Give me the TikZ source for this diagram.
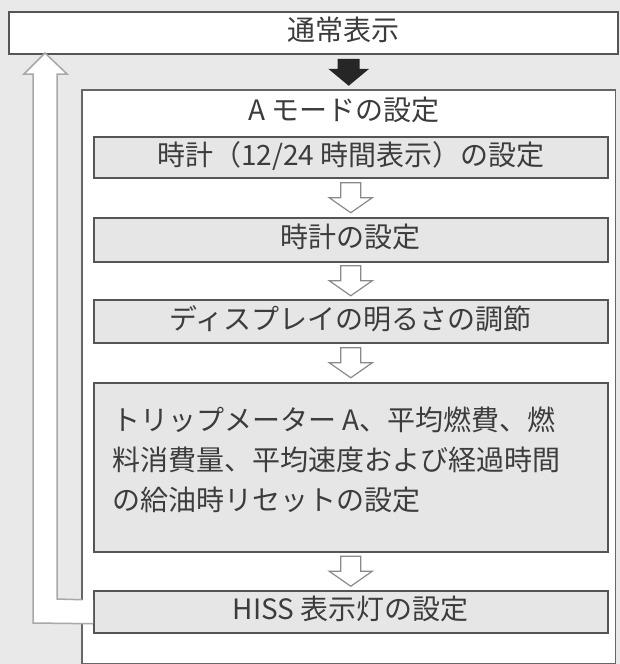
\documentclass[tikz,border=0pt]{standalone}
\usepackage{fontspec}
\setmainfont{Noto Sans CJK JP}
\usetikzlibrary{calc}
\definecolor{bg}{HTML}{E9E9E9}
\definecolor{boxfill}{HTML}{E6E6E6}
\definecolor{edge}{HTML}{555555}
\definecolor{txt}{HTML}{3C3C3C}
\definecolor{retedge}{HTML}{A8A8A8}
\definecolor{arredge}{HTML}{8A8A8A}
\tikzset{
  every node/.style={font=\fontsize{28}{32}\selectfont, text=txt},
  subbox/.style={draw=edge, fill=boxfill, line width=1.5pt, anchor=north west,
    minimum width=514pt, inner sep=0pt, text height=20.5pt, text depth=4.5pt},
  topbox/.style={draw=edge, fill=white, line width=1.5pt, anchor=north west,
    minimum width=609pt, minimum height=42pt, inner sep=0pt},
  hollowarrow/.style={fill=white, draw=arredge, line width=1.2pt, line join=miter},
  blackarrow/.style={fill=black!85, draw=none},
  retarrow/.style={draw=retedge, line width=1.5pt, line join=miter},
  outeredge/.style={draw=edge!90, line width=1.5pt},
  downarr/.pic={\path[hollowarrow] (-10,-15) -- (10,-15) -- (10,0) -- (21.5,0) -- (0,15) -- (-21.5,0) -- (-10,0) -- cycle;},
  solidarr/.pic={\path[blackarrow] (-11,-13.5) -- (11,-13.5) -- (11,-3.5) -- (20.5,-3.5) -- (0,13.5) -- (-20.5,-3.5) -- (-11,-3.5) -- cycle;}
}
\begin{document}
\begin{tikzpicture}[x=1pt,y=-1pt]
\path[fill=bg] (0,0) rectangle (620,664);
\useasboundingbox (0,0) rectangle (620,664);
% top box
\node[topbox] (top) at (8,11) {};
\node[text height=20.5pt, text depth=4.5pt, inner sep=0pt] (toptext) at (343,32) {通常表示};
% outer box
\node[anchor=north west, minimum width=533pt, minimum height=573pt, inner sep=0pt, fill=white] (outer) at (82,90) {};
% inner boxes
\node[subbox, minimum height=41pt] (b1) at (93,136) {時計（12/24 時間表示）の設定};
\node[subbox, minimum height=44pt] (b2) at (93,217) {時計の設定};
\node[subbox, minimum height=43pt] (b3) at (93,299) {ディスプレイの明るさの調節};
\node[subbox, minimum height=169pt] (b4) at (93,382) {};
\node[subbox, minimum height=42pt] (b5) at (93,590) {HISS 表示灯の設定};
\node[anchor=west, align=left, inner sep=0pt, font=\fontsize{28}{40}\selectfont] (b4text) at (112,460)
  {トリップメーター A、平均燃費、燃\\料消費量、平均速度および経過時間\\の給油時リセットの設定};
\node[text height=20.5pt, text depth=4.5pt, inner sep=0pt] (amode) at (344,112) {A モードの設定};
% return arrow
\coordinate (rtip) at (45,53);
\coordinate (rlow) at ($(b5.west)+(0,12)$);
\coordinate (rhigh) at ($(b5.west)+(-11,-12)$);
\path[fill=white] (rlow) -- (33,623) -- (33,74) -- (24,74) -- (rtip) -- (67,74) -- (57,74) -- (57,599) -- ($(rlow)+(0,-24)$) -- cycle;
% outer border with gap
\draw[outeredge] (rhigh) -- (outer.north west) -- (outer.north east) -- (outer.south east) -- (outer.south west) -- (82,623);
\draw[retarrow] (rlow) -- (33,623) -- (33,74) -- (24,74) -- (rtip) -- (67,74) -- (57,74) -- (57,599) -- (rhigh);
% arrows
\pic at ($(top.south -| outer.north)!0.5!(outer.north)$) {solidarr};
\pic at ($(b1.south)!0.5!(b2.north)$) {downarr};
\pic at ($(b2.south)!0.5!(b3.north)$) {downarr};
\pic at ($(b3.south)!0.5!(b4.north)$) {downarr};
\pic at ($(b4.south)!0.5!(b5.north)$) {downarr};
\end{tikzpicture}
\end{document}
